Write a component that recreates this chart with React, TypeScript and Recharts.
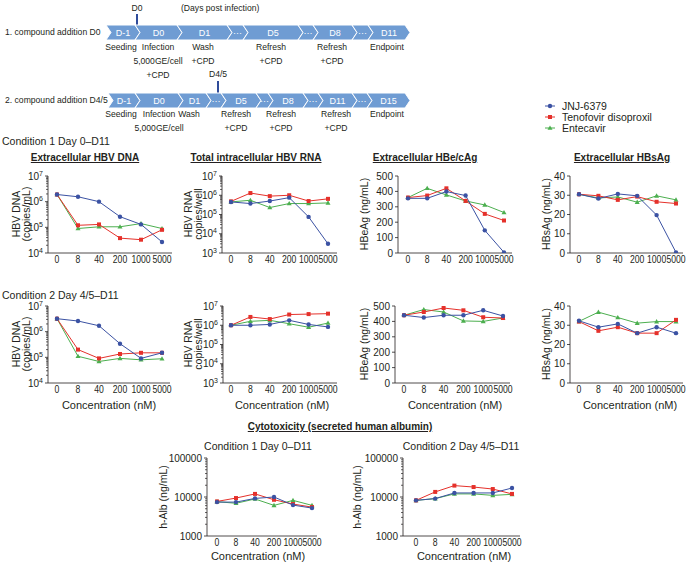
import React from "react";
import { LineChart, Line, XAxis, YAxis } from "recharts";

const INK = "#231f20";
const FONT = "'Liberation Sans', Arial, Helvetica, sans-serif";
const BLUE = "#3b52a3";
const RED = "#e5312b";
const GREEN = "#4caf4f";
const CHEVRON = "#6f9cd3";

const concentrations = ["0", "8", "40", "200", "1000", "5000"];
const seriesNames = ["JNJ-6379", "Tenofovir disoproxil", "Entecavir"];

// Condition 1 Day 0–D11
const c1DnaJnj = [1.9e6, 1.55e6, 1.0e6, 2.6e5, 1.3e5, 2.7e4];
const c1DnaTdf = [1.9e6, 1.2e5, 1.3e5, 3.8e4, 3.3e4, 8.0e4];
const c1DnaEtv = [1.9e6, 9.0e4, 1.05e5, 1.05e5, 1.4e5, 9.0e4];
const c1RnaJnj = [4.5e5, 3.7e5, 5.0e5, 7.5e5, 7.5e4, 3.0e3];
const c1RnaTdf = [4.8e5, 1.3e6, 9.0e5, 1.0e6, 5.0e5, 6.5e5];
const c1RnaEtv = [4.5e5, 5.5e5, 2.3e5, 3.7e5, 3.7e5, 4.0e5];
const c1HbeJnj = [355, 355, 399, 373, 147, 4];
const c1HbeTdf = [360, 373, 420, 338, 254, 211];
const c1HbeEtv = [360, 420, 377, 338, 312, 263];
const c1HbsJnj = [30.5, 28.3, 30.7, 29.7, 19.7, 0.3];
const c1HbsTdf = [30.5, 29.7, 27.6, 29.3, 26.6, 25.7];
const c1HbsEtv = [30.5, 28.6, 29.1, 26.4, 29.7, 27.6];

// Condition 2 Day 4/5–D11
const c2DnaJnj = [3.2e6, 2.6e6, 1.7e6, 3.4e5, 9.1e4, 1.5e5];
const c2DnaTdf = [3.2e6, 2.0e5, 9.1e4, 1.35e5, 1.5e5, 1.5e5];
const c2DnaEtv = [3.2e6, 1.1e5, 6.9e4, 9.1e4, 8.0e4, 8.8e4];
const c2RnaJnj = [1.0e6, 1.0e6, 1.1e6, 1.8e6, 1.1e6, 8.2e5];
const c2RnaTdf = [1.0e6, 2.7e6, 2.1e6, 3.6e6, 3.8e6, 4.0e6];
const c2RnaEtv = [1.0e6, 1.6e6, 1.8e6, 1.2e6, 7.9e5, 1.3e6];
const c2HbeJnj = [440, 425, 440, 440, 472, 435];
const c2HbeTdf = [440, 461, 487, 472, 427, 422];
const c2HbeEtv = [440, 477, 461, 403, 400, 422];
const c2HbsJnj = [32.3, 29, 30.7, 25.9, 29, 25.9];
const c2HbsTdf = [31.9, 27.1, 29, 25.9, 25.9, 32.8];
const c2HbsEtv = [32, 36.8, 34, 31.1, 31.9, 31.9];

// Cytotoxicity (secreted human albumin)
const c1AlbJnj = [7400, 7400, 9200, 10000, 6200, 5200];
const c1AlbTdf = [7700, 9400, 12000, 8500, 6600, 5500];
const c1AlbEtv = [7600, 6900, 8900, 6100, 8200, 6100];
const c2AlbJnj = [8200, 9100, 12700, 12700, 12700, 17000];
const c2AlbTdf = [8200, 13500, 19600, 18000, 16000, 12000];
const c2AlbEtv = [8200, 9100, 12000, 12000, 11000, 11700];

// axis ticks
const dnaMajors = [1e4, 1e5, 1e6, 1e7];
const rnaMajors = [1e3, 1e4, 1e5, 1e6, 1e7];
const albMajors = [1000, 10000, 100000];
const hbeTicks = [0, 100, 200, 300, 400, 500];
const hbsTicks = [0, 10, 20, 30, 40];

function withMinors(majors: number[]) {
  const out: number[] = [];
  majors.forEach((m, i) => {
    out.push(m);
    if (i < majors.length - 1) for (let k = 2; k <= 9; k++) out.push(m * k);
  });
  return out;
}

function rows(jnj: number[], tdf: number[], etv: number[]) {
  return concentrations.map((c, i) => ({ conc: c, jnj: jnj[i], tdf: tdf[i], etv: etv[i] }));
}

const circleDot = (p: any) => <circle key={`c${p.index}`} cx={p.cx} cy={p.cy} r={2.2} fill={BLUE} />;
const squareDot = (p: any) => <rect key={`s${p.index}`} x={p.cx - 2} y={p.cy - 2} width={4} height={4} fill={RED} />;
const triDot = (p: any) => (
  <polygon key={`t${p.index}`} points={`${p.cx},${p.cy - 2.6} ${p.cx + 2.5},${p.cy + 1.8} ${p.cx - 2.5},${p.cy + 1.8}`} fill={GREEN} />
);

// narrow-looking concentration ticks, like the condensed font of the figure
function XTick({ x, y, payload }: any) {
  return (
    <text transform={`translate(${x},${y}) scale(0.84,1)`} textAnchor="middle" dy={7.4} fontSize={10.3} fill={INK} fontFamily={FONT}>
      {payload.value}
    </text>
  );
}

function YTick(props: any) {
  const { x, y, payload, majors, fmt } = props;
  const v = payload.value;
  const major = majors.includes(v);
  if (!major) return <line x1={x} x2={x - 2} y1={y} y2={y} stroke={INK} strokeWidth={0.7} />;
  let label: any = String(v);
  if (fmt === "pow") {
    const e = Math.round(Math.log10(v));
    label = (
      <>
        10<tspan dy={-4} fontSize={7}>{e}</tspan>
      </>
    );
  }
  return (
    <g>
      <line x1={x} x2={x - 3} y1={y} y2={y} stroke={INK} strokeWidth={0.8} />
      <text x={x - 5} y={y} dy={3.6} textAnchor="end" fontSize={10} fill={INK} fontFamily={FONT}>
        {label}
      </text>
    </g>
  );
}

type PanelProps = {
  data: any[];
  axisX: number;
  top: number;
  bottom: number;
  xEnd: number;
  padL: number;
  padR: number;
  log: boolean;
  domain: [number, number];
  majors: number[];
  fmt: "pow" | "num";
};

function Panel({ data, axisX, top, bottom, xEnd, padL, padR, log, domain, majors, fmt }: PanelProps) {
  const YW = 44;
  const MT = 6;
  const MR = 14;
  const XH = 18;
  const width = YW + (xEnd - axisX) + MR;
  const height = MT + (bottom - top) + XH;
  const ticks = log ? withMinors(majors) : majors;
  return (
    <div style={{ position: "absolute", left: axisX - YW, top: top - MT }}>
      <LineChart width={width} height={height} data={data} margin={{ top: MT, right: MR, bottom: 0, left: 0 }}>
        <XAxis
          dataKey="conc"
          type="category"
          padding={{ left: padL, right: padR }}
          interval={0}
          tickLine={false}
          tickSize={0}
          tickMargin={3}
          height={XH}
          axisLine={{ stroke: INK, strokeWidth: 0.8 }}
          tick={(p: any) => <XTick {...p} />}
        />
        <YAxis
          type="number"
          scale={log ? "log" : "linear"}
          domain={domain}
          ticks={ticks}
          interval={0}
          allowDataOverflow
          width={YW}
          tickLine={false}
          tickSize={0}
          tickMargin={0}
          axisLine={{ stroke: INK, strokeWidth: 0.8 }}
          tick={(p: any) => <YTick {...p} majors={majors} fmt={fmt} />}
        />
        <Line dataKey="etv" stroke={GREEN} strokeWidth={1} dot={triDot} isAnimationActive={false} />
        <Line dataKey="tdf" stroke={RED} strokeWidth={1} dot={squareDot} isAnimationActive={false} />
        <Line dataKey="jnj" stroke={BLUE} strokeWidth={1} dot={circleDot} isAnimationActive={false} />
      </LineChart>
    </div>
  );
}

function CText({ x, y, children, size = 10.5, bold = false, underline = false, color = INK }: any) {
  return (
    <div
      style={{
        position: "absolute",
        left: x,
        top: y,
        transform: "translate(-50%, -50%)",
        whiteSpace: "nowrap",
        fontSize: size,
        fontWeight: bold ? 700 : 400,
        textDecoration: underline ? "underline" : "none",
        color,
        lineHeight: 1,
      }}
    >
      {children}
    </div>
  );
}

function LText({ x, y, children, size = 10.5 }: any) {
  return (
    <div style={{ position: "absolute", left: x, top: y, transform: "translateY(-50%)", whiteSpace: "nowrap", fontSize: size, lineHeight: 1 }}>
      {children}
    </div>
  );
}

function VLabel({ x, y, lines }: { x: number; y: number; lines: string[] }) {
  return (
    <div
      style={{
        position: "absolute",
        left: x,
        top: y,
        transform: "translate(-50%, -50%) rotate(-90deg)",
        whiteSpace: "nowrap",
        textAlign: "center",
        fontSize: 10.5,
        lineHeight: "10px",
      }}
    >
      {lines.map((l) => (
        <div key={l}>{l}</div>
      ))}
    </div>
  );
}

// timeline diagram
const row1Segs = [
  { x: 106, label: "D-1" },
  { x: 135, label: "D0" },
  { x: 177, label: "D1" },
  { x: 227, label: "···" },
  { x: 243, label: "D5" },
  { x: 298, label: "···" },
  { x: 313, label: "D8" },
  { x: 352, label: "···" },
  { x: 368, label: "D11" },
];
const row2Segs = [
  { x: 108, label: "D-1" },
  { x: 135, label: "D0" },
  { x: 178, label: "D1" },
  { x: 206, label: "···" },
  { x: 221, label: "D5" },
  { x: 256, label: "···" },
  { x: 268, label: "D8" },
  { x: 303, label: "···" },
  { x: 318, label: "D11" },
  { x: 352, label: "···" },
  { x: 367, label: "D15" },
];
const row1Notes = [
  { x: 121, lines: ["Seeding"] },
  { x: 158, lines: ["Infection", "5,000GE/cell", "+CPD"] },
  { x: 203, lines: ["Wash", "+CPD"] },
  { x: 271, lines: ["Refresh", "+CPD"] },
  { x: 332, lines: ["Refresh", "+CPD"] },
  { x: 387, lines: ["Endpoint"] },
];
const row2Notes = [
  { x: 121, lines: ["Seeding"] },
  { x: 159, lines: ["Infection", "5,000GE/cell"] },
  { x: 189, lines: ["Wash"] },
  { x: 236, lines: ["Refresh", "+CPD"] },
  { x: 281, lines: ["Refresh", "+CPD"] },
  { x: 336, lines: ["Refresh", "+CPD"] },
  { x: 387, lines: ["Endpoint"] },
];

function Chevrons({ segs, end, top, h }: { segs: { x: number; label: string }[]; end: number; top: number; h: number }) {
  const d = 5;
  const mid = top + h / 2;
  const bot = top + h;
  return (
    <>
      {segs.map((s, i) => {
        const x0 = s.x;
        const x1 = i < segs.length - 1 ? segs[i + 1].x : end - d;
        const pts = `${x0},${top} ${x1},${top} ${x1 + d},${mid} ${x1},${bot} ${x0},${bot} ${x0 + d},${mid}`;
        return (
          <g key={i}>
            <polygon points={pts} fill={CHEVRON} stroke="#fff" strokeWidth={1} />
            <text x={(x0 + x1) / 2 + d / 2} y={mid + 3.3} textAnchor="middle" fontSize={9} fill="#fff" fontFamily={FONT}>
              {s.label}
            </text>
          </g>
        );
      })}
    </>
  );
}

function Notes({ notes, y0 }: { notes: { x: number; lines: string[] }[]; y0: number }) {
  return (
    <>
      {notes.map((n) =>
        n.lines.map((l, j) => (
          <text key={`${n.x}-${j}`} x={n.x} y={y0 + j * 14} textAnchor="middle" fontSize={8.6} fill={INK} fontFamily={FONT}>
            {l}
          </text>
        ))
      )}
    </>
  );
}

const legendColors = [BLUE, RED, GREEN];

export default function App() {
  const c1Dna = rows(c1DnaJnj, c1DnaTdf, c1DnaEtv);
  const c1Rna = rows(c1RnaJnj, c1RnaTdf, c1RnaEtv);
  const c1Hbe = rows(c1HbeJnj, c1HbeTdf, c1HbeEtv);
  const c1Hbs = rows(c1HbsJnj, c1HbsTdf, c1HbsEtv);
  const c2Dna = rows(c2DnaJnj, c2DnaTdf, c2DnaEtv);
  const c2Rna = rows(c2RnaJnj, c2RnaTdf, c2RnaEtv);
  const c2Hbe = rows(c2HbeJnj, c2HbeTdf, c2HbeEtv);
  const c2Hbs = rows(c2HbsJnj, c2HbsTdf, c2HbsEtv);
  const c1Alb = rows(c1AlbJnj, c1AlbTdf, c1AlbEtv);
  const c2Alb = rows(c2AlbJnj, c2AlbTdf, c2AlbEtv);

  return (
    <div style={{ position: "relative", width: 696, height: 566, background: "#fff", fontFamily: FONT, color: INK, overflow: "hidden" }}>
      <style>{"body{margin:0}"}</style>

      {/* treatment schedule */}
      <svg width={420} height={140} style={{ position: "absolute", left: 0, top: 0 }}>
        <text x={137} y={11} textAnchor="middle" fontSize={8.6} fill={INK} fontFamily={FONT}>D0</text>
        <text x={181} y={11} fontSize={8.6} fill={INK} fontFamily={FONT}>(Days post infection)</text>
        <line x1={137} x2={137} y1={14} y2={26} stroke="#2f4b9a" strokeWidth={2} />
        <text x={5} y={35} fontSize={8.6} fill={INK} fontFamily={FONT}>1. compound addition D0</text>
        <Chevrons segs={row1Segs} end={410} top={25} h={15} />
        <Notes notes={row1Notes} y0={50} />
        <text x={218} y={77} textAnchor="middle" fontSize={8.6} fill={INK} fontFamily={FONT}>D4/5</text>
        <line x1={218} x2={218} y1={81} y2={93} stroke="#2f4b9a" strokeWidth={2} />
        <text x={5} y={103} fontSize={8.6} fill={INK} fontFamily={FONT}>2. compound addition D4/5</text>
        <Chevrons segs={row2Segs} end={410} top={93} h={15} />
        <Notes notes={row2Notes} y0={117} />
      </svg>

      {/* legend */}
      <div style={{ position: "absolute", left: 544, top: 100 }}>
        {seriesNames.map((n, i) => (
          <div key={n} style={{ display: "flex", alignItems: "center", height: 11, fontSize: 10.5 }}>
            <svg width={14} height={8} style={{ marginRight: 4 }}>
              <line x1={1} x2={11} y1={4} y2={4} stroke={legendColors[i]} strokeWidth={1} />
              {i === 0 && <circle cx={6} cy={4} r={2.2} fill={BLUE} />}
              {i === 1 && <rect x={4} y={2} width={4} height={4} fill={RED} />}
              {i === 2 && <polygon points="6,1.4 8.5,5.8 3.5,5.8" fill={GREEN} />}
            </svg>
            {n}
          </div>
        ))}
      </div>

      <LText x={2} y={141}>Condition 1 Day 0–D11</LText>
      <CText x={85} y={158} bold underline size={10}>Extracellular HBV DNA</CText>
      <CText x={256} y={158} bold underline size={10}>Total intracellular HBV RNA</CText>
      <CText x={425} y={158} bold underline size={10}>Extracellular HBe/cAg</CText>
      <CText x={622} y={158} bold underline size={10}>Extracellular HBsAg</CText>

      <VLabel x={21} y={214} lines={["HBV DNA", "(copies/mL)"]} />
      <VLabel x={193} y={214} lines={["HBV RNA", "copies/well"]} />
      <VLabel x={364} y={214} lines={["HBeAg (ng/mL)"]} />
      <VLabel x={546} y={214} lines={["HBsAg (ng/mL)"]} />

      <Panel data={c1Dna} axisX={48} top={176} bottom={253} xEnd={172} padL={9} padR={10} log domain={[1e4, 1e7]} majors={dnaMajors} fmt="pow" />
      <Panel data={c1Rna} axisX={222} top={176} bottom={253} xEnd={337} padL={9} padR={9} log domain={[1e3, 1e7]} majors={rnaMajors} fmt="pow" />
      <Panel data={c1Hbe} axisX={398} top={176} bottom={253} xEnd={512} padL={10} padR={8} log={false} domain={[0, 500]} majors={hbeTicks} fmt="num" />
      <Panel data={c1Hbs} axisX={570} top={176} bottom={253} xEnd={683} padL={9} padR={7} log={false} domain={[0, 40]} majors={hbsTicks} fmt="num" />

      <LText x={2} y={295}>Condition 2 Day 4/5–D11</LText>

      <VLabel x={21} y={344} lines={["HBV DNA", "(copies/mL)"]} />
      <VLabel x={193} y={344} lines={["HBV RNA", "copies/well"]} />
      <VLabel x={364} y={344} lines={["HBeAg (ng/mL)"]} />
      <VLabel x={546} y={344} lines={["HBsAg (ng/mL)"]} />

      <Panel data={c2Dna} axisX={48} top={306} bottom={383} xEnd={170} padL={9} padR={8} log domain={[1e4, 1e7]} majors={dnaMajors} fmt="pow" />
      <Panel data={c2Rna} axisX={223} top={306} bottom={383} xEnd={337} padL={8} padR={9} log domain={[1e3, 1e7]} majors={rnaMajors} fmt="pow" />
      <Panel data={c2Hbe} axisX={395} top={306} bottom={383} xEnd={510} padL={9} padR={7} log={false} domain={[0, 500]} majors={hbeTicks} fmt="num" />
      <Panel data={c2Hbs} axisX={570} top={306} bottom={383} xEnd={683} padL={9} padR={7} log={false} domain={[0, 40]} majors={hbsTicks} fmt="num" />

      <CText x={109} y={405} size={11}>Concentration (nM)</CText>
      <CText x={282} y={405} size={11}>Concentration (nM)</CText>
      <CText x={455} y={405} size={11}>Concentration (nM)</CText>
      <CText x={630} y={405} size={11}>Concentration (nM)</CText>

      <CText x={340} y={427} bold underline size={10}>Cytotoxicity (secreted human albumin)</CText>
      <CText x={258} y={446} size={10.5}>Condition 1 Day 0–D11</CText>
      <CText x={461} y={446} size={10.5}>Condition 2 Day 4/5–D11</CText>

      <VLabel x={163} y={497} lines={["h-Alb (ng/mL)"]} />
      <VLabel x={357} y={497} lines={["h-Alb (ng/mL)"]} />

      <Panel data={c1Alb} axisX={207} top={458} bottom={536} xEnd={317} padL={10} padR={5} log domain={[1000, 100000]} majors={albMajors} fmt="num" />
      <Panel data={c2Alb} axisX={403} top={458} bottom={536} xEnd={520} padL={13} padR={8} log domain={[1000, 100000]} majors={albMajors} fmt="num" />

      <CText x={258} y={556} size={11}>Concentration (nM)</CText>
      <CText x={464} y={556} size={11}>Concentration (nM)</CText>
    </div>
  );
}
